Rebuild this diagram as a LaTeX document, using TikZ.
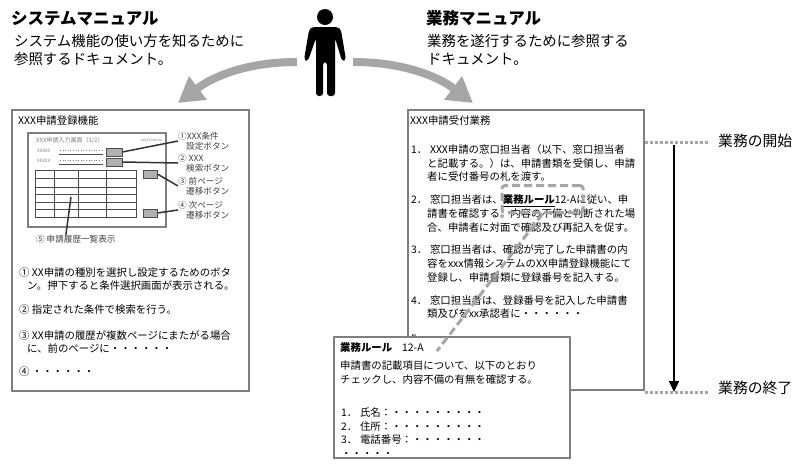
\documentclass[tikz,border=0pt]{standalone}
\usepackage{fontspec}
\setmainfont{Noto Sans CJK JP}
\usetikzlibrary{arrows.meta}
\definecolor{framegray}{HTML}{7F7F7F}
\definecolor{arrowgray}{HTML}{A6A6A6}
\definecolor{btngray}{HTML}{B0B0B0}
\newcommand{\listno}[1]{#1．\hspace{2.7pt}}
\begin{document}
\begin{tikzpicture}[x=1pt,y=-1pt,
page/.style={rectangle,draw=framegray,line width=1.8pt,fill=white,inner sep=0pt},
title/.style={anchor=west,inner sep=0pt,font=\fontsize{16.5}{20}\selectfont\bfseries},
lead/.style={anchor=west,inner sep=0pt,align=left,font=\fontsize{14.4}{18}\selectfont},
body/.style={anchor=west,inner sep=0pt,align=left,font=\fontsize{10.4}{13.6}\selectfont},
side/.style={anchor=west,inner sep=0pt,font=\fontsize{14.8}{17}\selectfont},
tag/.style={anchor=west,inner sep=0pt,align=left,font=\fontsize{8.6}{10.5}\selectfont,text=black!75},
mock/.style={anchor=west,inner sep=0pt,text=black!50},
btn/.style={rectangle,draw=black!70,line width=0.6pt,fill=btngray,minimum width=16pt,minimum height=8pt,inner sep=0pt},
lead line/.style={line width=1.5pt,black!80},
big arrow/.style={arrowgray,line width=8pt,-{Triangle[length=25pt,width=28pt]}},
dots/.style={arrowgray,line width=3pt,dash pattern=on 3pt off 2pt},
rule dash/.style={arrowgray,line width=3pt,dash pattern=on 8pt off 4pt}]
\useasboundingbox (0,0) rectangle (804,467);
\fill[white] (0,0) rectangle (804,467);
\node[title] (systitle) at (11,18) {システムマニュアル};
\node[lead] (syslead) at (14,50) {システム機能の使い方を知るために\\参照するドキュメント。};
\node[title] (jobtitle) at (426,18) {業務マニュアル};
\node[lead] (joblead) at (427,50) {業務を遂行するために参照する\\ドキュメント。};
\fill (325,17) circle (8);
\fill[rounded corners=3pt] (312,27) -- (338,27) -- (341,30) -- (346,60) -- (342,61) -- (335,38) -- (335,96) -- (327,96) -- (327,62) -- (323,62) -- (323,96) -- (316,96) -- (316,38) -- (308,61) -- (304,60) -- (309,30) -- cycle;
\node[minimum width=56pt,minimum height=10pt,inner sep=0pt] (person) at (325,62) {};
\coordinate (systip) at (178,103);
\coordinate (jobtip) at (473,103);
\draw[big arrow] (person.west) .. controls (250,62) and (215,75) .. (systip);
\draw[big arrow] (person.east) .. controls (400,62) and (436,75) .. (jobtip);
\node[page,minimum width=237pt,minimum height=281pt] (sysbox) at (130.5,250.5) {};
\node[body] (sysname) at (18,121) {XXX申請登録機能};
\node[rectangle,draw=framegray,line width=1.3pt,minimum width=138pt,minimum height=94pt,inner sep=0pt] (screen) at (97,180) {};
\node[mock,font=\fontsize{6}{7}\selectfont] (scrname) at (36,140) {XXX申請入力画面（1/2）};
\node[mock,anchor=east,font=\fontsize{4}{5}\selectfont] (scrdate) at (162,140) {xx/xx/xx/xx};
\node[mock,font=\fontsize{4.5}{5}\selectfont] (fielda) at (37,151) {XXXXX};
\node[mock,font=\fontsize{4.5}{5}\selectfont] (fieldb) at (37,161) {XXXXX};
\draw[black!50,line width=0.6pt,dotted] (60,150) -- (103,150);
\draw[black!50,line width=0.6pt,dotted] (60,160) -- (103,160);
\draw[black!70,line width=0.6pt] (59,154) -- (103,154);
\draw[black!70,line width=0.6pt] (59,164) -- (103,164);
\node[btn] (btna) at (114,152) {};
\node[btn] (btnb) at (114,162) {};
\node[btn,minimum width=14pt] (btnc) at (150,174) {};
\node[btn,minimum width=14pt] (btnd) at (150,213) {};
\node[rectangle,draw=black!70,line width=0.7pt,minimum width=101pt,minimum height=47pt,inner sep=0pt] (grid) at (85.5,193.5) {};
\foreach \y in {178,187,194,202,209} {
\draw[black!70,line width=0.6pt] (35,\y) -- (136,\y);
}
\foreach \x in {54,78,106} {
\draw[black!70,line width=0.6pt] (\x,170) -- (\x,217);
}
\node[tag] (taga) at (178,141) {①XXX条件\\\hspace*{8pt}設定ボタン};
\node[tag] (tagb) at (178,163) {② XXX\\\hspace*{8pt}検索ボタン};
\node[tag] (tagc) at (178,186) {③ 前ページ\\\hspace*{8pt}遷移ボタン};
\node[tag] (tagd) at (178,210) {④ 次ページ\\\hspace*{8pt}遷移ボタン};
\node[tag] (tage) at (36,239) {⑤ 申請履歴一覧表示};
\coordinate (gridmark) at (71,197);
\draw[lead line] (btna.east) -- (taga.west);
\draw[lead line] (btnb.east) -- (tagb.west);
\draw[lead line] (btnc.east) -- (tagc.west);
\draw[lead line] (btnd.east) -- (tagd.west);
\draw[lead line] (gridmark) -- ([xshift=-10pt]tage.north);
\node[body] (sysa) at (19,279) {① XX申請の種別を選択し設定するためのボタ\\\hspace*{8pt}ン。押下すると条件選択画面が表示される。};
\node[body] (sysb) at (19,310) {② 指定された条件で検索を行う。};
\node[body] (sysc) at (19,342) {③ XX申請の履歴が複数ページにまたがる場合\\\hspace*{8pt}に、前のページに・・・・・・};
\node[body] (sysd) at (19,372) {④ ・・・・・・};
\node[page,minimum width=236pt,minimum height=280pt] (jobbox) at (526,250) {};
\node[body] (jobname) at (410,121) {XXX申請受付業務};
\node[body] (joba) at (411,163) {\listno{1}XXX申請の窓口担当者（以下、窓口担当者\\\hspace*{16pt}と記載する。）は、申請書類を受領し、申請\\\hspace*{16pt}者に受付番号の札を渡す。};
\node[body] (jobb) at (411,213.5) {\listno{2}窓口担当者は、\underline{\textbf{業務ルール}}12-Aに従い、申\\\hspace*{16pt}請書を確認する。内容の不備と判断された場\\\hspace*{16pt}合、申請者に対面で確認及び再記入を促す。};
\node[body] (jobc) at (411,263.5) {\listno{3}窓口担当者は、確認が完了した申請書の内\\\hspace*{16pt}容をxxx情報システムのXX申請登録機能にて\\\hspace*{16pt}登録し、申請書類に登録番号を記入する。};
\node[body] (jobd) at (411,307) {\listno{4}窓口担当者は、登録番号を記入した申請書\\\hspace*{16pt}類及びをxx承認者に・・・・・・};
\node[body] (jobe) at (411,339) {\listno{5}};
\node[rectangle,rounded corners=3pt,draw=arrowgray,line width=3pt,dash pattern=on 8pt off 4pt,minimum width=81pt,minimum height=27pt,inner sep=0pt] (rulemark) at (542.5,199) {};
\node[page,minimum width=236pt,minimum height=121pt] (rulebox) at (452,397.5) {};
\node[body] (rulename) at (340,348) {\textbf{業務ルール}\hspace{10pt}12-A};
\node[body] (ruletext) at (340,372.5) {申請書の記載項目について、以下のとおり\\チェックし、内容不備の有無を確認する。};
\node[body] (rulelist) at (341,432.5) {\listno{1}氏名：・・・・・・・・・\\\listno{2}住所：・・・・・・・・・\\\listno{3}電話番号：・・・・・・・\\・・・・・};
\coordinate (rulepoint) at (437,351);
\draw[rule dash] (rulemark.south) -- (rulepoint);
\node[side] (startlabel) at (718,141) {業務の開始};
\node[side] (endlabel) at (718,388) {業務の終了};
\coordinate (startpoint) at (674,142);
\coordinate (endpoint) at (674,392);
\draw[dots] (jobbox.east |- startpoint) -- ([xshift=-10pt]startlabel.west |- startpoint);
\draw[dots] (jobbox.east |- endpoint) -- ([xshift=-10pt]endlabel.west |- endpoint);
\draw[line width=1.6pt,shorten <=3pt,-{Triangle[length=11pt,width=10pt]}] (startpoint) -- (endpoint);
\end{tikzpicture}
\end{document}
